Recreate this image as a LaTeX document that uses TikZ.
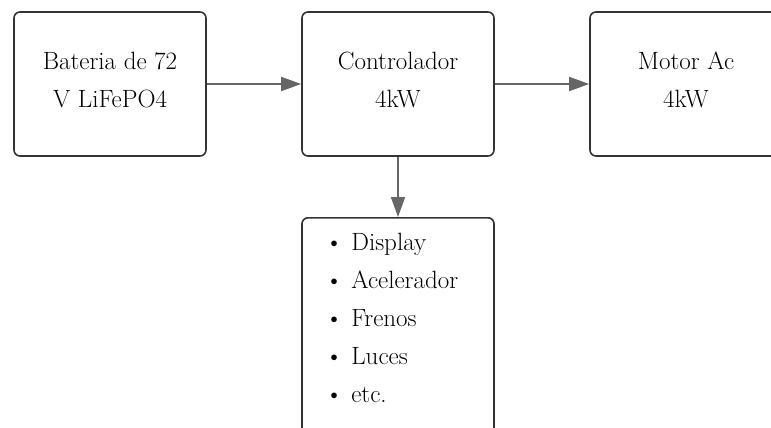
\documentclass[tikz,border=0pt]{standalone}
\usetikzlibrary{arrows.meta}
\tikzset{%
  block/.style = {shape=rectangle, rounded corners=6pt,%
                  draw=black!80, line width=1.6pt, align=center,%
                  minimum width=192pt, minimum height=144pt,%
                  font=\fontsize{25}{38}\selectfont, text=black,%
                  execute at end node={\rule[-9pt]{0pt}{0pt}}},%
  listbox/.style = {block, anchor=north, align=left, minimum height=0pt,%
                    text width=146pt, inner xsep=23pt, inner ysep=15pt},%
  flow/.style  = {-{Triangle[length=20pt,width=14pt]}, draw=black!60, line width=1.8pt}%
}
\begin{document}
\begin{tikzpicture}[x=1pt,y=-1pt]
	\useasboundingbox (0,0) rectangle (771,428);
	\node [block] (bat) at (110,84) {Bateria de 72\\V LiFePO4};
	\node [block] (ctrl) at (398,84) {Controlador\\4kW};
	\node [block] (motor) at (686,84) {Motor Ac\\4kW};
	\node [listbox] (extra) at (398,217)
		{\textbullet~Display\\\textbullet~Acelerador\\\textbullet~Frenos\\%
		 \textbullet~Luces\\\textbullet~etc.\rule[-40pt]{0pt}{0pt}};
	\draw [flow] (bat) -- (ctrl);
	\draw [flow] (ctrl) -- (motor);
	\draw [flow] (ctrl) -- (extra);
\end{tikzpicture}
\end{document}
